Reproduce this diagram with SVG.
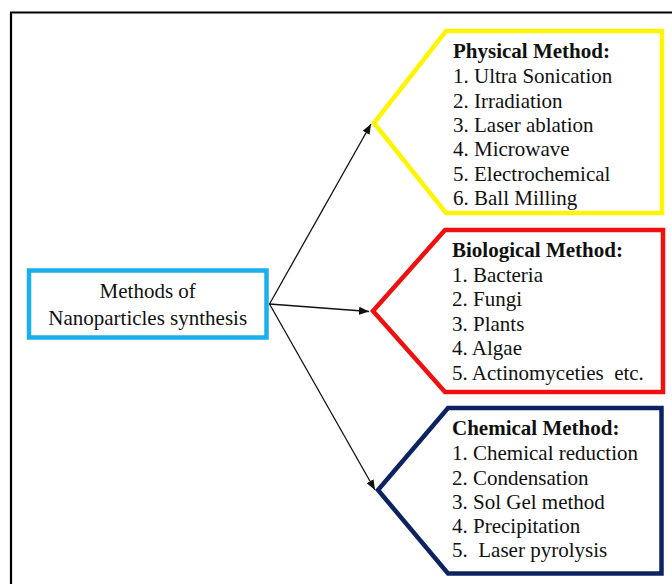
<svg xmlns="http://www.w3.org/2000/svg" width="672" height="584" viewBox="0 0 672 584">
<style>
text{font-family:"Liberation Serif","Times New Roman",serif;font-size:21px;fill:#111}
.t{font-weight:bold}
.sh{fill:#fff;stroke-width:4.5;stroke-linejoin:miter}
.c{stroke:#111;stroke-width:1.3;fill:none}
</style>
<defs>
<marker id="ah" viewBox="0 0 10 8" refX="10" refY="4" markerWidth="10" markerHeight="8" markerUnits="userSpaceOnUse" orient="auto">
<path d="M0,0 L10,4 L0,8 Z" fill="#111"/>
</marker>
</defs>
<rect width="672" height="584" fill="#fff"/>
<path d="M11,584 V12.5 H672" fill="none" stroke="#000" stroke-width="2.2"/>
<g id="connectors">
<line class="c" x1="269.5" y1="304" x2="371" y2="124" marker-end="url(#ah)"/>
<line class="c" x1="269.5" y1="304" x2="369" y2="311.5" marker-end="url(#ah)"/>
<line class="c" x1="269.5" y1="304" x2="375" y2="490" marker-end="url(#ah)"/>
</g>
<g id="root">
<rect x="29" y="270.5" width="237.5" height="67" fill="#fff" stroke="#1AB0EC" stroke-width="4.5"/>
<text x="147.7" y="298.3" text-anchor="middle">Methods of</text>
<text x="147.7" y="325" text-anchor="middle">Nanoparticles synthesis</text>
</g>
<g id="physical">
<polygon class="sh" stroke="#FFF500" points="446,31 662,31 662,213 446,213 374,123"/>
<text x="453" y="58.3" class="t">Physical Method:</text>
<text x="453" y="83.3">1. Ultra Sonication</text>
<text x="453" y="107.5">2. Irradiation</text>
<text x="453" y="131.8">3. Laser ablation</text>
<text x="453" y="156">4. Microwave</text>
<text x="453" y="180.5">5. Electrochemical</text>
<text x="453" y="205">6. Ball Milling</text>
</g>
<g id="biological">
<polygon class="sh" stroke="#F01010" points="445,230 663,230 663,392 445,392 373,311"/>
<text x="452" y="256.7" class="t">Biological Method:</text>
<text x="452" y="281.7">1. Bacteria</text>
<text x="452" y="306">2. Fungi</text>
<text x="452" y="330.5">3. Plants</text>
<text x="452" y="355">4. Algae</text>
<text x="452" y="380" xml:space="preserve">5. Actinomyceties  etc.</text>
</g>
<g id="chemical">
<polygon class="sh" stroke="#0D2260" points="448,408 661.5,408 661.5,573.5 448,573.5 378,490"/>
<text x="452" y="435" class="t">Chemical Method:</text>
<text x="452" y="460">1. Chemical reduction</text>
<text x="452" y="484.5">2. Condensation</text>
<text x="452" y="509">3. Sol Gel method</text>
<text x="452" y="533">4. Precipitation</text>
<text x="452" y="557" xml:space="preserve">5.  Laser pyrolysis</text>
</g>
</svg>
